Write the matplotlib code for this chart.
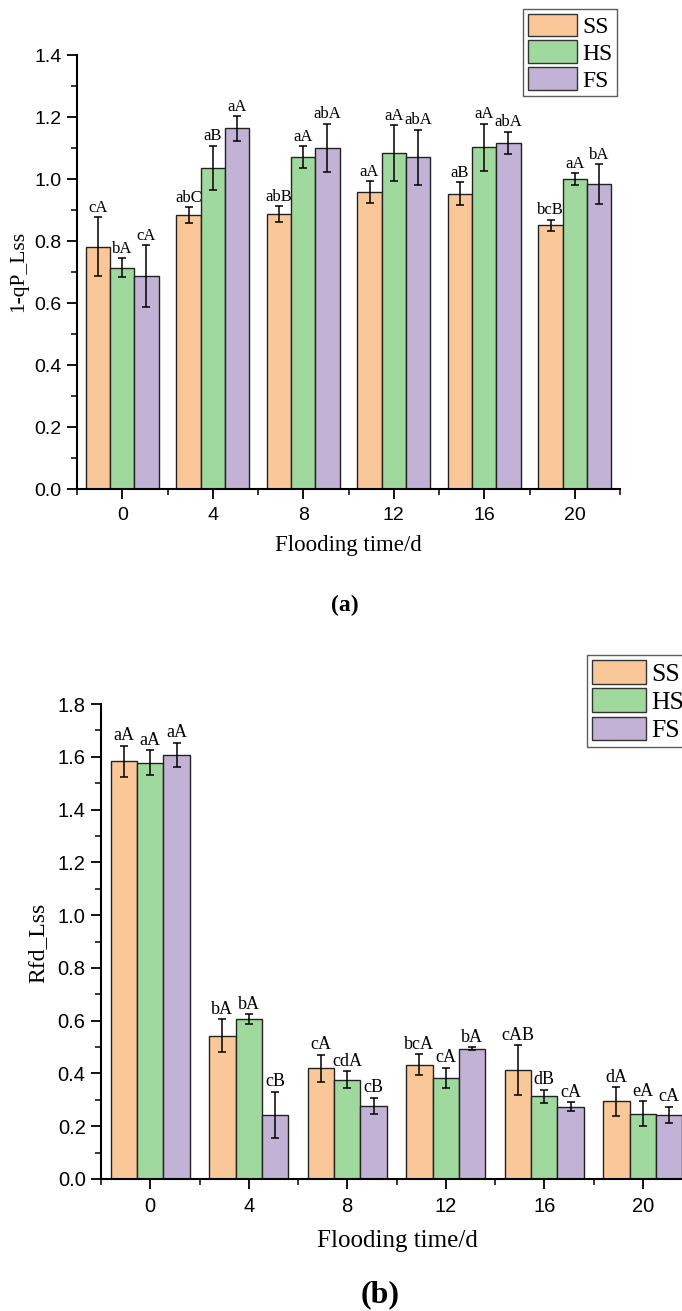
import matplotlib
matplotlib.use('Agg')
import matplotlib.pyplot as plt
from matplotlib.ticker import MultipleLocator
from matplotlib.patches import Patch
import numpy as np

days = [0, 4, 8, 12, 16, 20]
groups = ['SS', 'HS', 'FS']
colors = ['#FAC898', '#A0D99D', '#C2B2D6']

# panel (a): 1-qP_Lss
qp_ss = [0.781, 0.884, 0.887, 0.957, 0.953, 0.851]
qp_hs = [0.714, 1.037, 1.070, 1.084, 1.103, 1.000]
qp_fs = [0.687, 1.163, 1.100, 1.070, 1.116, 0.983]
qp_ss_err = [0.095, 0.026, 0.025, 0.036, 0.036, 0.018]
qp_hs_err = [0.030, 0.071, 0.036, 0.090, 0.076, 0.018]
qp_fs_err = [0.100, 0.040, 0.078, 0.089, 0.036, 0.065]
qp_ss_lab = ['cA', 'abC', 'abB', 'aA', 'aB', 'bcB']
qp_hs_lab = ['bA', 'aB', 'aA', 'aA', 'aA', 'aA']
qp_fs_lab = ['cA', 'aA', 'abA', 'abA', 'abA', 'bA']

# panel (b): Rfd_Lss
rfd_ss = [1.583, 0.543, 0.419, 0.433, 0.414, 0.294]
rfd_hs = [1.578, 0.605, 0.376, 0.384, 0.313, 0.247]
rfd_fs = [1.607, 0.244, 0.277, 0.494, 0.274, 0.244]
rfd_ss_err = [0.059, 0.063, 0.052, 0.040, 0.094, 0.055]
rfd_hs_err = [0.046, 0.019, 0.032, 0.038, 0.026, 0.047]
rfd_fs_err = [0.047, 0.087, 0.031, 0.006, 0.016, 0.030]
rfd_ss_lab = ['aA', 'bA', 'cA', 'bcA', 'cAB', 'dA']
rfd_hs_lab = ['aA', 'bA', 'cdA', 'cA', 'dB', 'eA']
rfd_fs_lab = ['aA', 'cB', 'cB', 'bA', 'cA', 'cA']

serif = 'Liberation Serif'
sans = 'Liberation Sans'
W, H = 682, 1311

fig = plt.figure(figsize=(W / 100, H / 100), dpi=100)


def px_axes(l, t, r, b):
    return fig.add_axes([l / W, 1 - b / H, (r - l) / W, (b - t) / H])


def draw_panel(ax, vals, errs, labs, ymax, tick_fs, lab_fs):
    w = 1.07
    x = np.array(days, dtype=float)
    for i in range(3):
        pos = x + (i - 1) * w
        ax.bar(pos, vals[i], width=w, color=colors[i], edgecolor='#222222',
               linewidth=1.0, zorder=2)
        ax.errorbar(pos, vals[i], yerr=errs[i], fmt='none', ecolor='black',
                    elinewidth=1.1, capsize=3.2, capthick=1.1, zorder=3)
        for xx, v, e, t in zip(pos, vals[i], errs[i], labs[i]):
            ax.annotate(t, (xx, v + e), xytext=(0, 1), textcoords='offset points',
                        ha='center', va='bottom', fontsize=lab_fs, family=serif)
    ax.set_xlim(-2, 22)
    ax.set_ylim(0, ymax)
    ax.set_xticks(days)
    ax.xaxis.set_minor_locator(MultipleLocator(2))
    ax.yaxis.set_major_locator(MultipleLocator(0.2))
    ax.yaxis.set_minor_locator(MultipleLocator(0.1))
    ax.set_yticklabels([f'{t:.1f}' for t in ax.get_yticks()])
    for s in ['top', 'right']:
        ax.spines[s].set_visible(False)
    for s in ['left', 'bottom']:
        ax.spines[s].set_linewidth(1.5)
    ax.tick_params(which='major', direction='out', length=7, width=1.3,
                   labelsize=tick_fs)
    ax.tick_params(which='minor', direction='out', length=4, width=1.1)
    ax.tick_params(axis='x', pad=6)
    ax.tick_params(axis='y', pad=4)
    for lbl in ax.get_xticklabels() + ax.get_yticklabels():
        lbl.set_family(sans)


def add_legend(x0, y0, fs, hl, hh):
    handles = [Patch(facecolor=c, edgecolor='#333333', linewidth=1.0) for c in colors]
    leg = fig.legend(handles, groups, loc='upper left',
                     bbox_to_anchor=(x0 / W, 1 - y0 / H), frameon=True,
                     fancybox=False, edgecolor='#333333', prop={'family': serif, 'size': fs},
                     handlelength=hl, handleheight=hh, labelspacing=0.1,
                     handletextpad=0.2, borderpad=0.2, borderaxespad=0)
    leg.get_frame().set_linewidth(1.0)


# panel (a)
ax1 = px_axes(77, 55, 620, 489)
draw_panel(ax1, [qp_ss, qp_hs, qp_fs], [qp_ss_err, qp_hs_err, qp_fs_err],
           [qp_ss_lab, qp_hs_lab, qp_fs_lab], 1.4, 14, 12)
add_legend(523, 9, 17, 2.1, 1.1)
fig.text(348 / W, 1 - 545 / H, 'Flooding time/d', ha='center', va='center',
         family=serif, fontsize=16.5)
fig.text(19 / W, 1 - 271 / H, '1-qP_Lss', ha='center', va='center',
         rotation=90, family=serif, fontsize=15.5)
fig.text(345 / W, 1 - 605 / H, '(a)', ha='center', va='center',
         family=serif, fontsize=17, fontweight='bold')

# panel (b)
ax2 = px_axes(101, 704, 692, 1179)
draw_panel(ax2, [rfd_ss, rfd_hs, rfd_fs], [rfd_ss_err, rfd_hs_err, rfd_fs_err],
           [rfd_ss_lab, rfd_hs_lab, rfd_fs_lab], 1.8, 14.5, 13)
add_legend(587, 655, 18.5, 2.1, 1.05)
fig.text(397 / W, 1 - 1241 / H, 'Flooding time/d', ha='center', va='center',
         family=serif, fontsize=18)
fig.text(38 / W, 1 - 943 / H, 'Rfd_Lss', ha='center', va='center',
         rotation=90, family=serif, fontsize=17)
fig.text(380 / W, 1 - 1295 / H, '(b)', ha='center', va='center',
         family=serif, fontsize=23, fontweight='bold')

fig.savefig('out.png', dpi=100)
